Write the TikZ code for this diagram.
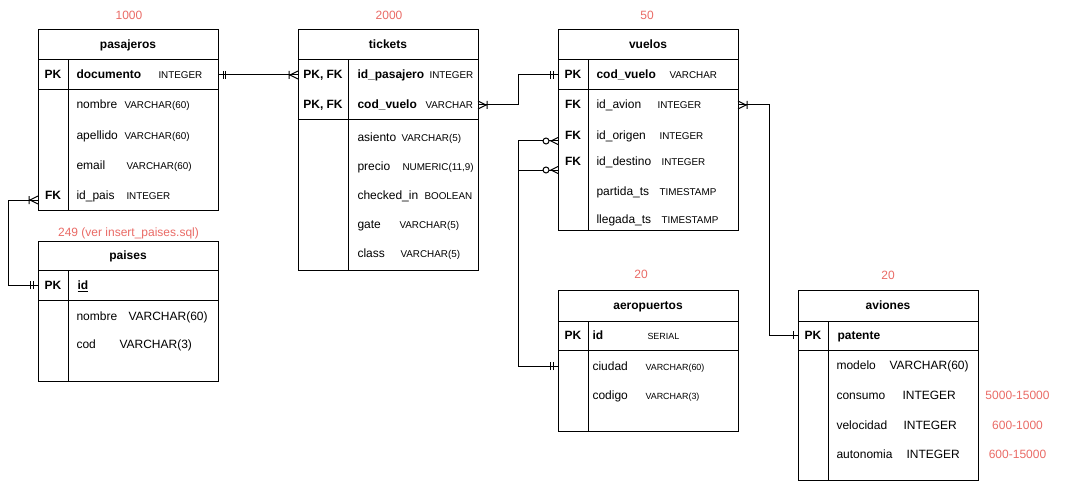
\documentclass[tikz,border=0pt]{standalone}
\usepackage{fontspec}
\setmainfont{Liberation Sans}
\definecolor{cardred}{HTML}{EA6B66}

% table frame: name, x, y, width, height, header bottom, key block bottom, divider x, title
\newcommand{\ertable}[9]{%
  \node[tablebox, minimum width=#4*0.75pt, minimum height=#5*0.75pt] (#1) at (#2,#3) {};
  \draw (#2,#6) -- ++(#4,0) (#2,#7) -- ++(#4,0) (#8,#6) -- (#8,#3+#5);
  \node[title] (#1-title) at (#2+#4/2,#3/2+#6/2+4) {#9};
}
% one column: node name, x, row centre y, column name, type x, type style, type text
\newcommand{\fld}[7]{%
  \node[fname] (#1) at (#2,#3+4) {#4};
  \node[#6] (#1-type) at (#5,#3+4) {#7};
}

\begin{document}
\begin{tikzpicture}[x=0.75pt,y=-0.75pt,line width=0.75pt,
  tablebox/.style={draw,rectangle,inner sep=0,outer sep=0,anchor=north west},
  title/.style={font=\fontsize{9}{11}\selectfont\bfseries,inner sep=0,anchor=base},
  keylbl/.style={font=\fontsize{9}{11}\selectfont\bfseries,inner sep=0,anchor=base},
  fname/.style={font=\fontsize{9}{11}\selectfont,inner sep=0,anchor=base west},
  ftype/.style={font=\fontsize{7.4}{9}\selectfont,inner sep=0,anchor=base west},
  ftypesm/.style={font=\fontsize{6.7}{8}\selectfont,inner sep=0,anchor=base west},
  ftypebig/.style={font=\fontsize{9}{11}\selectfont,inner sep=0,anchor=base west},
  count/.style={text=cardred,font=\fontsize{9}{11}\selectfont,inner sep=0,anchor=base},
  pics/mand one/.style={code={\draw (5,-4)--(5,4) (7.5,-4)--(7.5,4);}},
  pics/just one/.style={code={\draw (5,-4)--(5,4);}},
  pics/one many/.style={code={\draw (0,-4)--(8,0)--(0,4) (9,-4)--(9,4);}},
  pics/zero many/.style={code={\draw (0,-3.5)--(7,0)--(0,3.5); \draw[fill=white] (12,0) circle[radius=3];}},
]
\fill[white] (0,0) rectangle (1069,481);
\useasboundingbox (0,0) rectangle (1069,481);

% ---------------- pasajeros
\ertable{pasajeros}{38}{30}{180}{180}{60}{90}{68}{pasajeros}
\node[keylbl] (pa-pk) at (53,79) {PK};
\node[keylbl] (pa-fk) at (53,199) {FK};
\fld{pa-doc}{76}{75}{\textbf{documento}}{158}{ftype}{INTEGER}
\fld{pa-nom}{76}{105}{nombre}{124}{ftype}{VARCHAR(60)}
\fld{pa-ape}{76}{135}{apellido}{124}{ftype}{VARCHAR(60)}
\fld{pa-ema}{76}{165}{email}{126}{ftype}{VARCHAR(60)}
\fld{pa-pai}{76}{195}{id\_pais}{126}{ftype}{INTEGER}
\node[count] (pa-count) at (129,20) {1000};

% ---------------- tickets
\ertable{tickets}{298}{30}{180}{240}{60}{120}{348}{tickets}
\node[keylbl] (ti-k1) at (323,79) {PK, FK};
\node[keylbl] (ti-k2) at (323,109) {PK, FK};
\fld{ti-idp}{357}{75}{\textbf{id\_pasajero}}{429}{ftype}{INTEGER}
\fld{ti-cv}{357}{105}{\textbf{cod\_vuelo}}{425}{ftype}{VARCHAR}
\fld{ti-asi}{357}{138}{asiento}{401}{ftype}{VARCHAR(5)}
\fld{ti-pre}{357}{167}{precio}{402}{ftype}{NUMERIC(11,9)}
\fld{ti-che}{357}{195}{checked\_in}{424}{ftype}{BOOLEAN}
\fld{ti-gat}{357}{224}{gate}{399}{ftype}{VARCHAR(5)}
\fld{ti-cla}{357}{253}{class}{400}{ftype}{VARCHAR(5)}
\node[count] (ti-count) at (389,20) {2000};

% ---------------- vuelos
\ertable{vuelos}{558}{30}{180}{200}{60}{90}{588}{vuelos}
\node[keylbl] (vu-pk) at (573,79) {PK};
\node[keylbl] (vu-fk1) at (573,109) {FK};
\node[keylbl] (vu-fk2) at (573,139) {FK};
\node[keylbl] (vu-fk3) at (573,166) {FK};
\fld{vu-cv}{596}{75}{\textbf{cod\_vuelo}}{669}{ftype}{VARCHAR}
\fld{vu-avi}{596}{105}{id\_avion}{657}{ftype}{INTEGER}
\fld{vu-ori}{596}{135}{id\_origen}{659}{ftype}{INTEGER}
\fld{vu-des}{596}{162}{id\_destino}{661}{ftype}{INTEGER}
\fld{vu-par}{596}{191}{partida\_ts}{659}{ftype}{TIMESTAMP}
\fld{vu-lle}{596}{219}{llegada\_ts}{661}{ftype}{TIMESTAMP}
\node[count] (vu-count) at (647,20) {50};

% ---------------- paises
\ertable{paises}{38}{241}{180}{140}{270}{300}{68}{paises}
\node[keylbl] (pi-pk) at (53,289) {PK};
\node[fname] (pi-id) at (77,289) {\textbf{\underline{id}}};
\fld{pi-nom}{76}{316}{nombre}{128}{ftypebig}{VARCHAR(60)}
\fld{pi-cod}{76}{344}{cod}{119}{ftypebig}{VARCHAR(3)}
\node[count] (pi-count) at (128.5,236) {249 (ver insert\_paises.sql)};

% ---------------- aeropuertos
\ertable{aeropuertos}{558}{290}{180}{141}{321}{350}{588}{aeropuertos}
\node[keylbl] (ae-pk) at (573,339) {PK};
\fld{ae-id}{592}{335}{\textbf{id}}{647}{ftypesm}{SERIAL}
\fld{ae-ciu}{592}{366}{ciudad}{645}{ftypesm}{VARCHAR(60)}
\fld{ae-cod}{592}{395}{codigo}{645}{ftypesm}{VARCHAR(3)}
\node[count] (ae-count) at (641,278) {20};

% ---------------- aviones
\ertable{aviones}{798}{290}{180}{190}{321}{350}{828}{aviones}
\node[keylbl] (av-pk) at (813,339) {PK};
\node[fname] (av-pat) at (837,339) {\textbf{patente}};
\fld{av-mod}{836}{365}{modelo}{889}{ftypebig}{VARCHAR(60)}
\fld{av-con}{836}{395}{consumo}{902}{ftypebig}{INTEGER}
\fld{av-vel}{836}{425}{velocidad}{903}{ftypebig}{INTEGER}
\fld{av-aut}{836}{454}{autonomia}{906}{ftypebig}{INTEGER}
\node[count] (av-count) at (888,279) {20};
\node[count] (av-r1) at (1017.5,399) {5000-15000};
\node[count] (av-r2) at (1017.5,429) {600-1000};
\node[count] (av-r3) at (1017.5,458) {600-15000};

% ---------------- relationship end points on the table edges
\coordinate (pa-doc-r) at (pasajeros.east |- 0,75);
\coordinate (pa-pai-l) at (pasajeros.west |- 0,200);
\coordinate (ti-idp-l) at (tickets.west |- 0,75);
\coordinate (ti-cv-r) at (tickets.east |- 0,105);
\coordinate (vu-cv-l) at (vuelos.west |- 0,75);
\coordinate (vu-avi-r) at (vuelos.east |- 0,105);
\coordinate (vu-ori-l) at (vuelos.west |- 0,141);
\coordinate (vu-des-l) at (vuelos.west |- 0,170);
\coordinate (pi-id-l) at (paises.west |- 0,285);
\coordinate (ae-ciu-l) at (aeropuertos.west |- 0,366);
\coordinate (av-pat-l) at (aviones.west |- 0,335);

% ---------------- relationships
\draw (pa-doc-r) -- (ti-idp-l);
\draw (ti-cv-r) -- ++(40,0) |- (vu-cv-l);
\draw (vu-ori-l) -- ++(-40,0) |- (ae-ciu-l);
\draw (vu-des-l) -- ++(-40,0);
\draw (vu-avi-r) -- ++(31,0) |- (av-pat-l);
\draw (pa-pai-l) -- ++(-30,0) |- (pi-id-l);

% ---------------- cardinality marks
\path (pa-doc-r) pic {mand one};
\path (ti-idp-l) pic[rotate=180] {one many};
\path (ti-cv-r) pic {one many};
\path (vu-cv-l) pic[rotate=180] {mand one};
\path (vu-ori-l) pic[rotate=180] {zero many};
\path (vu-des-l) pic[rotate=180] {zero many};
\path (ae-ciu-l) pic[rotate=180] {mand one};
\path (vu-avi-r) pic {one many};
\path (av-pat-l) pic[rotate=180] {just one};
\path (pa-pai-l) pic[rotate=180] {one many};
\path (pi-id-l) pic[rotate=180] {mand one};
\end{tikzpicture}
\end{document}
